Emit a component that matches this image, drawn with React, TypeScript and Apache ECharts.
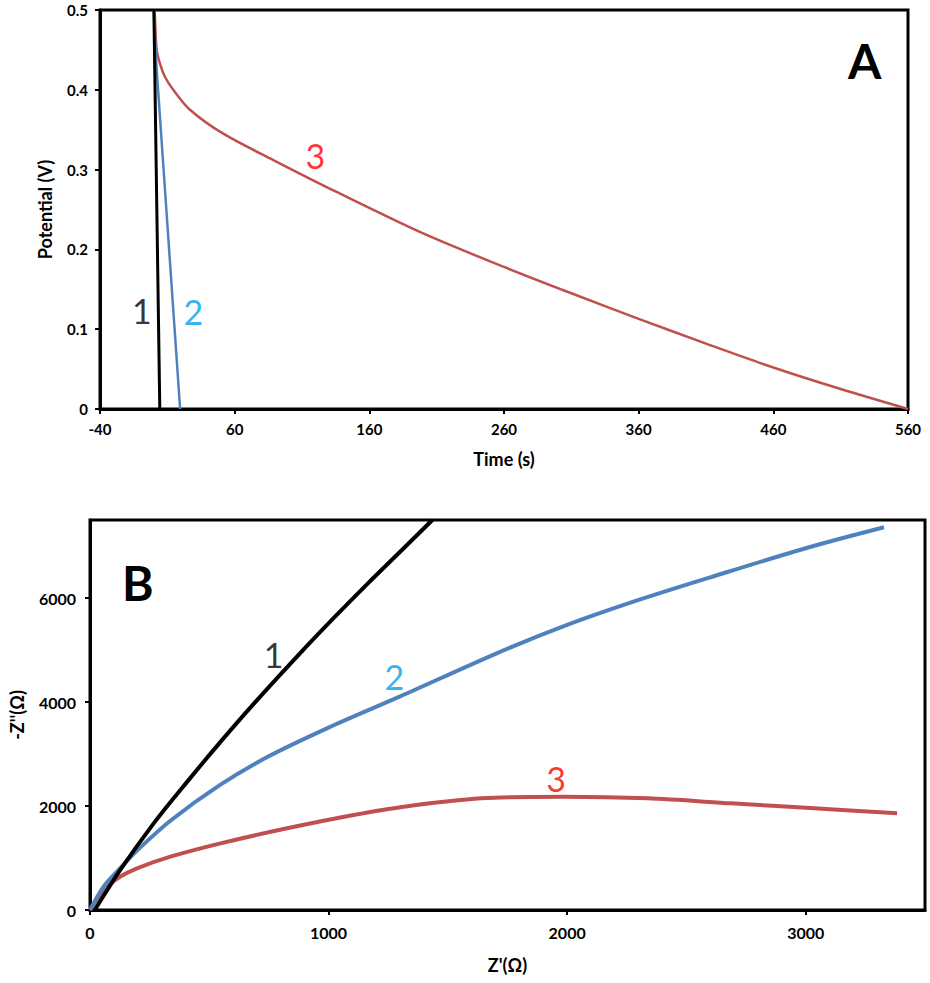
import React, { useEffect, useRef } from "react";
import * as echarts from "echarts";

// ---------- Panel A: galvanostatic discharge ----------
const timeTicksA = [-40, 60, 160, 260, 360, 460, 560];
const curveA1: number[][] = [
  [0, 0.5],
  [4.4, 0],
];
const curveA2: number[][] = [
  [0, 0.5],
  [1.5, 0.44],
  [19.5, 0],
];
const curveA3: number[][] = [
  [0.3, 0.5],
  [0.8, 0.49],
  [2.1, 0.45],
  [4.5, 0.433],
  [8.3, 0.416],
  [14.4, 0.4],
  [26.8, 0.375],
  [51.5, 0.345],
  [88.7, 0.312],
  [135.7, 0.272],
  [200, 0.22],
  [260, 0.178],
  [310, 0.145],
  [360, 0.113],
  [410, 0.082],
  [460, 0.052],
  [510, 0.025],
  [560, 0],
];
const labelsA = [
  { text: "1", x: -9, y: 0.124, color: "#000000" },
  { text: "2", x: 29.3, y: 0.122, color: "#00A0E6" },
  { text: "3", x: 120, y: 0.318, color: "#FF0000" },
];

// ---------- Panel B: Nyquist ----------
const curveB1: number[][] = [
  [20, 0],
  [127, 770],
  [267, 1666],
  [407, 2464],
  [547, 3234],
  [687, 3970],
  [887, 4970],
  [1025, 5632],
  [1167, 6292],
  [1300, 6890],
  [1435, 7500],
];
const curveB2: number[][] = [
  [0, 0],
  [57, 450],
  [127, 807],
  [197, 1143],
  [337, 1717],
  [547, 2410],
  [747, 2950],
  [1000, 3507],
  [1300, 4107],
  [1700, 4927],
  [2000, 5482],
  [2300, 5962],
  [2600, 6397],
  [3000, 6957],
  [3328, 7360],
];
const curveB3: number[][] = [
  [0, 0],
  [57, 385],
  [127, 641],
  [197, 802],
  [337, 1026],
  [547, 1282],
  [826, 1571],
  [1105, 1827],
  [1315, 1987],
  [1640, 2147],
  [1989, 2179],
  [2337, 2147],
  [2686, 2051],
  [3035, 1955],
  [3383, 1859],
];
const labelsB = [
  { text: "1", x: 770, y: 4904, color: "#000000" },
  { text: "2", x: 1276, y: 4481, color: "#00A0E6" },
  { text: "3", x: 1954, y: 2538, color: "#FF0000" },
];

const FONT = "Lato";

function labelSeries(
  labels: { text: string; x: number; y: number; color: string }[],
  axisIndex: number
) {
  return labels.map((l) => ({
    type: "scatter",
    xAxisIndex: axisIndex,
    yAxisIndex: axisIndex,
    data: [[l.x, l.y]],
    symbolSize: 1,
    itemStyle: { color: "rgba(0,0,0,0)" },
    silent: true,
    z: 5,
    label: {
      show: true,
      position: "inside",
      formatter: l.text,
      color: l.color,
      textBorderWidth: 0,
      fontFamily: FONT,
      fontSize: 34,
      fontWeight: "normal",
    },
  }));
}

const plainNum = (v: number) => String(v);

const axisCommon = {
  axisLine: { show: true, onZero: false, lineStyle: { color: "#000", width: 3 } },
  axisTick: { show: true, length: 5, lineStyle: { color: "#000", width: 2 } },
  splitLine: { show: false },
  nameTextStyle: { color: "#000", fontFamily: FONT, fontWeight: "bold" },
};

export default function App() {
  const ref = useRef<HTMLDivElement>(null);
  useEffect(() => {
    if (!ref.current) return;
    const chart = echarts.init(ref.current, undefined, { renderer: "svg" });
    chart.setOption({
      animation: false,
      backgroundColor: "#ffffff",
      grid: [
        {
          left: 100,
          top: 10,
          width: 808,
          height: 399,
          show: true,
          borderColor: "#000",
          borderWidth: 3,
          backgroundColor: "transparent",
        },
        {
          left: 88,
          top: 520,
          width: 837,
          height: 390,
          show: true,
          borderColor: "#000",
          borderWidth: 3,
          backgroundColor: "transparent",
        },
      ],
      xAxis: [
        {
          ...axisCommon,
          gridIndex: 0,
          type: "value",
          min: timeTicksA[0],
          max: timeTicksA[timeTicksA.length - 1],
          interval: 100,
          name: "Time (s)",
          nameLocation: "middle",
          nameGap: 41,
          nameTextStyle: { ...axisCommon.nameTextStyle, fontSize: 18 },
          axisLabel: {
            color: "#000",
            fontFamily: FONT,
            fontWeight: "bold",
            fontSize: 15,
            margin: 12,
            formatter: plainNum,
          },
        },
        {
          ...axisCommon,
          gridIndex: 1,
          type: "value",
          min: 0,
          max: 3500,
          interval: 1000,
          name: "Z'(Ω)",
          nameLocation: "middle",
          nameGap: 46,
          nameTextStyle: { ...axisCommon.nameTextStyle, fontSize: 18 },
          axisLabel: {
            color: "#000",
            fontFamily: FONT,
            fontWeight: "bold",
            fontSize: 16,
            margin: 14,
            showMaxLabel: false,
            formatter: plainNum,
          },
        },
      ],
      yAxis: [
        {
          ...axisCommon,
          gridIndex: 0,
          type: "value",
          min: 0,
          max: 0.5,
          interval: 0.1,
          name: "Potential (V)",
          nameLocation: "middle",
          nameGap: 46,
          nameTextStyle: { ...axisCommon.nameTextStyle, fontSize: 18 },
          axisLabel: {
            color: "#000",
            fontFamily: FONT,
            fontWeight: "bold",
            fontSize: 15,
            margin: 12,
          },
        },
        {
          ...axisCommon,
          gridIndex: 1,
          type: "value",
          min: 0,
          max: 7500,
          interval: 2000,
          name: "-Z''(Ω)",
          nameLocation: "middle",
          nameGap: 64,
          nameTextStyle: { ...axisCommon.nameTextStyle, fontSize: 18 },
          axisLabel: {
            color: "#000",
            fontFamily: FONT,
            fontWeight: "bold",
            fontSize: 16,
            margin: 14,
            showMaxLabel: false,
            formatter: plainNum,
          },
        },
      ],
      series: [
        {
          type: "line",
          xAxisIndex: 0,
          yAxisIndex: 0,
          data: curveA3,
          showSymbol: false,
          smooth: 0.3,
          lineStyle: { color: "#C0504D", width: 2.5 },
          z: 2,
        },
        {
          type: "line",
          xAxisIndex: 0,
          yAxisIndex: 0,
          data: curveA2,
          showSymbol: false,
          lineStyle: { color: "#4F81BD", width: 2.5 },
          z: 3,
        },
        {
          type: "line",
          xAxisIndex: 0,
          yAxisIndex: 0,
          data: curveA1,
          showSymbol: false,
          lineStyle: { color: "#000000", width: 3 },
          z: 4,
        },
        {
          type: "line",
          xAxisIndex: 1,
          yAxisIndex: 1,
          data: curveB3,
          showSymbol: false,
          smooth: 0.3,
          lineStyle: { color: "#C0504D", width: 4 },
          z: 2,
        },
        {
          type: "line",
          xAxisIndex: 1,
          yAxisIndex: 1,
          data: curveB2,
          showSymbol: false,
          smooth: 0.3,
          lineStyle: { color: "#4F81BD", width: 4 },
          z: 3,
        },
        {
          type: "line",
          xAxisIndex: 1,
          yAxisIndex: 1,
          data: curveB1,
          showSymbol: false,
          smooth: 0.3,
          lineStyle: { color: "#000000", width: 4 },
          z: 4,
        },
        ...labelSeries(labelsA, 0),
        ...labelSeries(labelsB, 1),
      ],
      graphic: [
        {
          type: "text",
          left: 848,
          top: 36,
          style: {
            text: "A",
            fill: "#000",
            font: `bold 48px ${FONT}`,
          },
        },
        {
          type: "text",
          left: 122,
          top: 558,
          style: {
            text: "B",
            fill: "#000",
            font: `bold 48px ${FONT}`,
          },
        },
      ],
    });
    return () => chart.dispose();
  }, []);
  return (
    <div
      ref={ref}
      style={{ position: "fixed", left: 0, top: 0, width: 930, height: 983 }}
    />
  );
}
